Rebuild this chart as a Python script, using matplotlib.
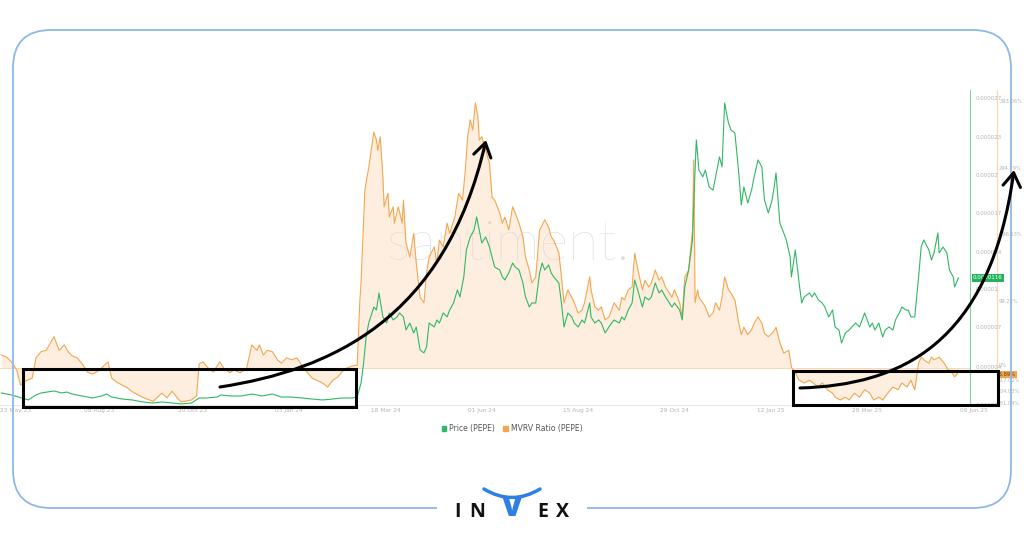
import matplotlib
matplotlib.use("Agg")
import matplotlib.pyplot as plt
from matplotlib.patches import FancyBboxPatch, FancyArrowPatch, Patch, Rectangle
from matplotlib.path import Path
from matplotlib.transforms import blended_transform_factory
import numpy as np
import pandas as pd

start = pd.Timestamp("2023-05-23")

# MVRV ratio (%), days since start
mvrv_day = [1, 5, 9, 13, 16, 21, 25, 28, 32, 36,
            42, 46, 50, 53, 56, 60, 64, 68, 72, 75,
            79, 84, 87, 91, 95, 99, 103, 111, 119, 126,
            130, 134, 138, 141, 149, 153, 155, 158, 162, 166,
            171, 174, 179, 182, 187, 192, 196, 200, 202, 205,
            208, 212, 216, 219, 223, 227, 231, 235, 239, 243,
            251, 255, 259, 263, 266, 270, 274, 278, 280, 281,
            284, 287, 291, 293, 294, 296, 298, 299, 302, 303,
            306, 307, 310, 313, 314, 316, 319, 322, 324, 327,
            330, 332, 334, 338, 340, 342, 345, 348, 350, 354,
            357, 360, 362, 364, 366, 368, 370, 372, 373, 375,
            378, 381, 383, 385, 389, 391, 393, 396, 399, 401,
            404, 407, 409, 412, 414, 417, 420, 422, 424, 427,
            429, 431, 435, 437, 439, 442, 445, 447, 450, 453,
            455, 459, 460, 463, 466, 468, 471, 474, 476, 478,
            482, 484, 486, 489, 492, 494, 497, 500, 502, 505,
            507, 510, 513, 515, 518, 521, 523, 525, 529, 531,
            533, 536, 539, 540, 541, 543, 544, 547, 549, 552,
            555, 557, 560, 562, 564, 567, 569, 572, 575, 577,
            579, 582, 585, 587, 590, 593, 595, 598, 601, 603,
            604, 607, 610, 614, 616, 619, 622, 626, 630, 633,
            637, 640, 644, 648, 650, 654, 658, 661, 665, 669,
            673, 677, 680, 684, 687, 691, 695, 699, 702, 706,
            709, 712, 715, 717, 719, 723, 725, 727, 731, 735,
            738, 741, 743, 746]
mvrv_pct = [19, 16, 9, -3, -25, -18, -15, 15, 24, 26,
            46, 26, 34, 24, 18, 15, 6, -6, -9, -6,
            0, 9, -15, -21, -25, -29, -35, -43, -49, -37,
            -44, -34, -44, -50, -47, -41, 6, 9, 0, -6,
            9, 0, -7, -3, -7, 0, 34, 26, 34, 19,
            26, 24, 12, 7, 15, 12, 15, 4, -6, -15,
            -22, -28, -18, -13, -6, 0, 3, 4, 96, 125,
            262, 295, 347, 335, 320, 340, 281, 237, 257, 222,
            237, 213, 237, 213, 247, 184, 163, 198, 154, 104,
            96, 140, 163, 178, 154, 188, 178, 213, 198, 222,
            257, 247, 287, 340, 365, 350, 390, 369, 335, 340,
            320, 301, 251, 247, 228, 213, 222, 203, 237, 228,
            213, 193, 163, 144, 125, 134, 203, 210, 218, 207,
            193, 188, 169, 134, 96, 115, 104, 96, 81, 85,
            96, 134, 115, 90, 85, 90, 71, 75, 85, 96,
            85, 104, 100, 115, 119, 169, 140, 115, 129, 119,
            125, 144, 129, 134, 119, 110, 104, 115, 96, 75,
            134, 144, 203, 306, 96, 115, 104, 96, 90, 75,
            81, 96, 85, 104, 134, 115, 110, 100, 66, 49,
            60, 49, 56, 66, 75, 66, 51, 46, 51, 56,
            60, 37, 22, 26, 1, -7, -18, -22, -18, -22,
            -28, -22, -32, -37, -43, -47, -43, -47, -37, -43,
            -32, -37, -47, -43, -47, -37, -28, -32, -22, -28,
            -18, -32, 7, 16, 12, 7, 16, 12, 16, 7,
            -3, -7, -13, -6]

# PEPE price in millionths of a dollar, days since start
price_day = [1, 9, 17, 22, 28, 32, 42, 48, 52, 56,
             64, 72, 79, 83, 87, 95, 103, 111, 119, 126,
             134, 141, 149, 155, 161, 169, 172, 180, 188, 196,
             204, 212, 219, 227, 235, 243, 251, 259, 266, 274,
             278, 281, 283, 285, 287, 291, 293, 295, 298, 301,
             303, 306, 309, 311, 314, 316, 319, 322, 324, 327,
             330, 332, 334, 338, 340, 342, 345, 348, 350, 353,
             356, 358, 361, 363, 366, 369, 371, 373, 375, 378,
             381, 383, 385, 389, 391, 393, 396, 399, 401, 404,
             407, 409, 412, 414, 417, 420, 422, 424, 427, 429,
             431, 435, 437, 439, 442, 445, 447, 450, 453, 455,
             459, 460, 463, 466, 468, 471, 474, 476, 478, 482,
             484, 486, 489, 492, 494, 497, 500, 502, 505, 507,
             510, 513, 515, 518, 521, 523, 525, 529, 531, 533,
             536, 539, 541, 542, 544, 547, 549, 552, 555, 557,
             560, 562, 564, 567, 569, 572, 575, 577, 579, 582,
             585, 587, 590, 593, 595, 598, 601, 603, 604, 607,
             610, 612, 615, 616, 619, 622, 624, 626, 630, 632,
             634, 637, 640, 642, 645, 648, 650, 653, 655, 658,
             661, 663, 666, 669, 671, 673, 677, 679, 681, 684,
             687, 689, 692, 695, 697, 700, 702, 705, 707, 709,
             712, 715, 717, 719, 723, 725, 727, 730, 731, 734,
             737, 739, 742, 743, 746]
price_e6 = [1.78, 1.61, 1.35, 1.18, 1.61, 1.78, 1.95, 1.78, 1.86, 1.69,
            1.52, 1.35, 1.52, 1.69, 1.43, 1.26, 1.18, 1.01, 0.92, 1.01,
            0.92, 0.84, 0.92, 1.35, 1.35, 1.43, 1.61, 1.52, 1.52, 1.69,
            1.52, 1.69, 1.43, 1.43, 1.35, 1.26, 1.18, 1.26, 1.35, 1.35,
            1.43, 2.63, 4.34, 6.57, 7.76, 9.13, 8.87, 10.33, 8.28, 7.76,
            8.62, 8.02, 8.28, 8.62, 8.28, 7.16, 7.76, 6.91, 7.42, 5.45,
            5.20, 5.71, 7.76, 7.42, 8.02, 7.76, 8.62, 8.28, 8.87, 9.47,
            10.58, 9.99, 11.70, 14.00, 15.12, 15.71, 16.83, 15.71, 14.60, 15.12,
            14.26, 13.41, 12.55, 12.29, 11.70, 11.44, 12.04, 12.89, 12.55, 12.29,
            11.18, 9.99, 9.13, 9.47, 9.47, 12.04, 12.89, 12.29, 12.72, 12.04,
            11.70, 11.18, 9.47, 7.42, 8.62, 8.28, 7.76, 7.42, 8.02, 7.76,
            9.47, 8.28, 7.76, 8.02, 7.76, 6.91, 7.42, 7.76, 8.02, 7.76,
            8.28, 8.02, 8.87, 9.47, 11.44, 10.33, 9.13, 9.99, 9.73, 9.99,
            11.18, 10.33, 10.58, 9.99, 9.47, 9.13, 9.47, 8.87, 8.02, 10.84,
            12.29, 14.86, 20.84, 23.41, 20.84, 20.25, 20.84, 19.39, 19.13, 20.25,
            21.96, 21.10, 26.57, 24.86, 24.26, 24.01, 20.59, 17.85, 19.39, 18.02,
            19.13, 20.25, 21.70, 21.10, 18.28, 17.17, 18.28, 19.73, 20.59, 16.31,
            15.46, 14.86, 13.41, 11.70, 14.00, 11.18, 9.47, 9.99, 10.33, 9.99,
            10.33, 9.73, 9.47, 9.13, 8.28, 8.87, 7.42, 7.16, 6.05, 6.91,
            7.16, 7.42, 7.76, 7.42, 8.02, 8.62, 7.42, 7.76, 7.16, 7.76,
            6.57, 7.16, 7.42, 7.16, 8.02, 8.62, 9.13, 8.87, 8.87, 8.28,
            8.28, 11.70, 14.26, 14.86, 14.00, 13.15, 13.75, 15.46, 13.75, 14.26,
            13.75, 12.29, 11.70, 10.84, 11.61]

tick_dates = ["2023-05-23", "2023-08-08", "2023-10-20", "2024-01-03", "2024-03-18",
              "2024-06-01", "2024-08-15", "2024-10-29", "2025-01-12", "2025-03-28",
              "2025-06-08"]
tick_labels = ["23 May 23", "08 Aug 23", "20 Oct 23", "03 Jan 24", "18 Mar 24",
               "01 Jun 24", "15 Aug 24", "29 Oct 24", "12 Jan 25", "28 Mar 25",
               "08 Jun 25"]
price_ticks_e6 = [0.75, 4.0, 7.42, 10.67, 13.83, 17.17, 20.42, 23.67, 27.0]
price_tick_labels = ["0.000001", "0.000004", "0.000007", "0.00001", "0.000014",
                     "0.000017", "0.00002", "0.000023", "0.000027"]
mvrv_ticks = [-51.04, -34.03, -17.02, 0, 99.22, 196.53, 294.79, 393.06]
mvrv_tick_labels = ["-51.04%", "-34.03%", "-17.02%", "0%", "99.22%", "196.53%",
                    "294.79%", "393.06%"]
last_price_label = "0.0000116"
last_mvrv = -5.89

GREEN = "#2fb864"
ORANGE = "#f4a64e"
FILL = "#fdeedf"
BLUE = "#8fb7e6"
GREY = "#b4b4b4"

mvrv_dates = start + pd.to_timedelta(mvrv_day, unit="D")
price_dates = start + pd.to_timedelta(price_day, unit="D")
price = np.array(price_e6) * 1e-6

fig = plt.figure(figsize=(10.24, 5.38), dpi=100)
ax = fig.add_axes([0, 1 - 405 / 538, 970 / 1024, 315 / 538])

ax.fill_between(mvrv_dates, mvrv_pct, 0, color=FILL, lw=0, zorder=1)
ax.axhline(0, color="#f9d3ab", lw=0.6, zorder=1.5)
ax.plot(mvrv_dates, mvrv_pct, color=ORANGE, lw=0.8, zorder=2)
ax.text(0.523, 0.51, "santiment.", transform=ax.transAxes, fontsize=40,
        family="Lato", fontweight="light", color="#d2d2da", alpha=0.85,
        ha="center", va="center", zorder=1.2)

ax.set_xlim(start, start + pd.Timedelta(days=755))
ax.set_ylim(-54.4, 408.8)

ax_p = ax.twinx()
ax_p.plot(price_dates, price, color=GREEN, lw=0.8, zorder=3)
ax_p.set_ylim(0.75e-6, 27.68e-6)
for s in ["top", "left", "bottom"]:
    ax_p.spines[s].set_visible(False)
ax_p.spines["right"].set_color("#7fd39c")
ax_p.spines["right"].set_linewidth(0.8)
ax_p.set_yticks(np.array(price_ticks_e6) * 1e-6, price_tick_labels)
ax_p.tick_params(axis="y", length=0, pad=4, labelsize=4, labelcolor=GREY)
trp = blended_transform_factory(ax_p.transAxes, ax_p.transData)
ax_p.text(1.003, price[-1], last_price_label, transform=trp, fontsize=4,
          color="white", ha="left", va="center", zorder=5,
          bbox=dict(boxstyle="square,pad=0.25", fc="#22b45a", ec="none"))

# MVRV scale sits further right (twinx resets it, so set it afterwards)
for s in ["top", "left"]:
    ax.spines[s].set_visible(False)
ax.spines["bottom"].set_color("#e4e4e4")
ax.spines["bottom"].set_linewidth(0.6)
ax.spines["right"].set_visible(True)
ax.spines["right"].set_position(("axes", 997 / 970))
ax.spines["right"].set_color("#f9d5b0")
ax.spines["right"].set_linewidth(0.8)
ax.yaxis.tick_right()
ax.set_yticks(mvrv_ticks, mvrv_tick_labels)
ax.tick_params(axis="y", length=0, pad=1.5, labelsize=3.7, labelcolor=GREY)
ax.get_yticklabels()[3].set_va("bottom")
ax.set_xticks(pd.to_datetime(tick_dates), tick_labels)
ax.tick_params(axis="x", length=0, pad=2, labelsize=4.2, labelcolor=GREY)
xl = ax.get_xticklabels()
xl[0].set_ha("left")
xl[-1].set_ha("left")

tr = blended_transform_factory(ax.transAxes, ax.transData)
ax_p.text(997 / 970 + 0.001, last_mvrv, "%.2f%%" % last_mvrv, transform=tr, fontsize=3.7,
          color="#5a3a10", ha="left", va="top", zorder=5,
          bbox=dict(boxstyle="square,pad=0.2", fc=ORANGE, ec="none"))

fig.legend(handles=[Patch(color=GREEN), Patch(color=ORANGE)],
           labels=["Price (PEPE)", "MVRV Ratio (PEPE)"],
           loc="center", bbox_to_anchor=(0.5, 1 - 429 / 538), ncol=2,
           frameon=False, fontsize=5.5, handlelength=0.6, handleheight=0.6,
           handletextpad=0.4, columnspacing=1.0, labelcolor="#555555")

# overlay in pixel coordinates for frame, boxes, arrows and logo
ov = fig.add_axes([0, 0, 1, 1], zorder=10)
ov.set_xlim(0, 1024)
ov.set_ylim(538, 0)
ov.axis("off")
ov.patch.set_alpha(0)

ov.add_patch(FancyBboxPatch((13, 30), 998, 478, boxstyle="round,pad=0,rounding_size=38",
                            fill=False, ec=BLUE, lw=1.3))
ov.add_patch(Rectangle((23, 369), 333, 38, fill=False, ec="black", lw=2.2))
ov.add_patch(Rectangle((793, 371), 205, 34, fill=False, ec="black", lw=2.2))

curve4 = [Path.MOVETO, Path.CURVE4, Path.CURVE4, Path.CURVE4]
arrow1 = Path([(220, 387), (330, 370), (445, 320), (486, 140)], curve4)
arrow2 = Path([(800, 388), (900, 385), (990, 345), (1014, 170)], curve4)
for p in (arrow1, arrow2):
    ov.add_patch(FancyArrowPatch(path=p, arrowstyle="->,head_length=0.7,head_width=0.45",
                                 mutation_scale=14, lw=2.2, color="black"))

ov.add_patch(Rectangle((437, 498), 150, 20, fc="white", ec="none"))
for ch, x in zip("INEX", [457, 477, 543, 562]):
    ov.text(x, 512, ch, fontsize=14, fontweight="bold", family="Open Sans",
            color="#111111", ha="center", va="center")
ov.text(512, 509, "V", fontsize=21, fontweight="heavy", family="Open Sans",
        color="#2f80e6", ha="center", va="center")
horns = Path([(484, 489), (512, 506), (540, 489)],
             [Path.MOVETO, Path.CURVE3, Path.CURVE3])
ov.add_patch(FancyArrowPatch(path=horns, arrowstyle="-", lw=2.5, color="#2f80e6"))

fig.savefig("out.png", dpi=100)
